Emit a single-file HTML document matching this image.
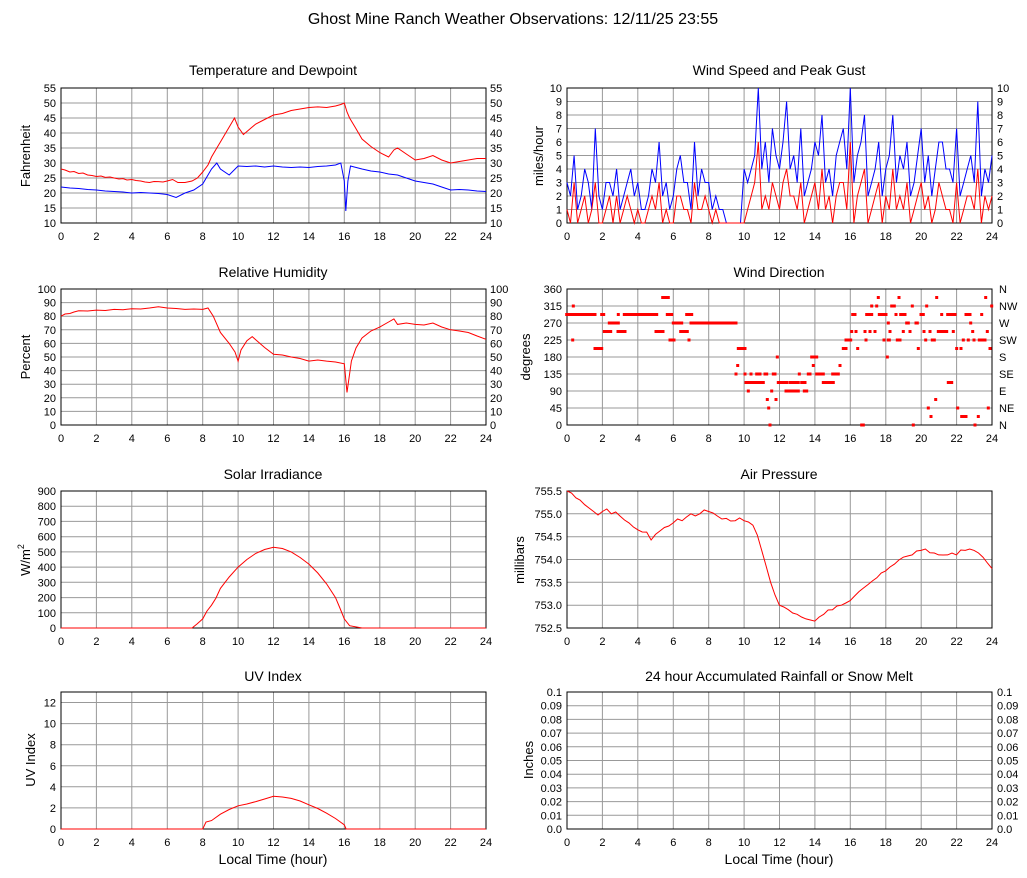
<!DOCTYPE html>
<html><head><meta charset="utf-8"><style>
html,body{margin:0;padding:0;background:#fff;}
svg{display:block;font-family:"Liberation Sans",Arial,sans-serif;}
.t{font-size:11px;fill:#000}
.ti{font-size:14px;fill:#000;text-anchor:middle}
.ax{font-size:13px;fill:#000;text-anchor:middle}
.r{text-anchor:end}
.m{text-anchor:middle}
.g{fill:none;stroke:#999;stroke-width:1}
.gv{fill:none;stroke:#999;stroke-width:1;vector-effect:non-scaling-stroke}
.f{fill:none;stroke:#000;stroke-width:1}
.rl{fill:none;stroke:#f00;stroke-width:1}
.bl{fill:none;stroke:#00f;stroke-width:1}
.d rect{fill:#f00}
</style></head><body>
<svg width="1027" height="878" viewBox="0 0 1027 878" xmlns="http://www.w3.org/2000/svg">
<defs>
<path id="vl" class="gv" d="M96.4 0V1M131.8 0V1M167.3 0V1M202.7 0V1M238.1 0V1M273.5 0V1M308.9 0V1M344.3 0V1M379.8 0V1M415.2 0V1M450.6 0V1"/>
</defs>
<rect width="1027" height="878" fill="#fff"/>
<!-- vertical grid -->
<use href="#vl" transform="translate(0,88) scale(1,135)"/>
<use href="#vl" transform="translate(506,88) scale(1,135)"/>
<use href="#vl" transform="translate(0,289) scale(1,136)"/>
<use href="#vl" transform="translate(506,289) scale(1,136)"/>
<use href="#vl" transform="translate(0,491) scale(1,137)"/>
<use href="#vl" transform="translate(506,491) scale(1,137)"/>
<use href="#vl" transform="translate(0,692) scale(1,137)"/>
<use href="#vl" transform="translate(506,692) scale(1,137)"/>
<!-- horizontal grid -->
<path class="g" d="M61 103H486M61 118H486M61 133H486M61 148H486M61 163H486M61 178H486M61 193H486M61 208H486"/>
<path class="g" d="M567 101.5H992M567 115H992M567 128.5H992M567 142H992M567 155.5H992M567 169H992M567 182.5H992M567 196H992M567 209.5H992"/>
<path class="g" d="M61 302.6H486M61 316.2H486M61 329.8H486M61 343.4H486M61 357H486M61 370.6H486M61 384.2H486M61 397.8H486M61 411.4H486"/>
<path class="g" d="M567 306H992M567 323H992M567 340H992M567 357H992M567 374H992M567 391H992M567 408H992"/>
<path class="g" d="M61 506.2H486M61 521.4H486M61 536.7H486M61 551.9H486M61 567.1H486M61 582.3H486M61 597.6H486M61 612.8H486"/>
<path class="g" d="M567 513.8H992M567 536.7H992M567 559.5H992M567 582.3H992M567 605.2H992"/>
<path class="g" d="M61 702.5H486M61 723.6H486M61 744.7H486M61 765.8H486M61 786.8H486M61 807.9H486"/>
<path class="g" d="M567 705.7H992M567 719.4H992M567 733.1H992M567 746.8H992M567 760.5H992M567 774.2H992M567 787.9H992M567 801.6H992M567 815.3H992"/>
<!-- frames -->
<rect class="f" x="61" y="88" width="425" height="135"/>
<rect class="f" x="567" y="88" width="425" height="135"/>
<rect class="f" x="61" y="289" width="425" height="136"/>
<rect class="f" x="567" y="289" width="425" height="136"/>
<rect class="f" x="61" y="491" width="425" height="137"/>
<rect class="f" x="567" y="491" width="425" height="137"/>
<rect class="f" x="61" y="692" width="425" height="137"/>
<rect class="f" x="567" y="692" width="425" height="137"/>

<!-- Temperature -->
<polyline class="rl" points="61,169 65,170 69.9,172 74,171.5 78.7,173.5 83,173 87.6,175 92,175.5 96.4,176.5 101,176 105.3,177.4 110,177 114.1,178 119,179 123,178.6 127,180 131.8,179.5 136,180.5 140.7,181 145,182 149.5,182.5 154,181.5 158.4,181.6 163,182 167.2,181 172.6,179.5 177.9,182.5 185,182.5 192,181 197.4,178 202.7,172 208,165 211.5,157 216.8,148 220.4,142 225.7,133 231,124 234.5,118 238.1,127 243.4,134.5 248.7,130 252.2,127 255.8,124 264.6,119.5 273.5,115 282.4,113.5 291.2,110.5 300.1,109 308.9,107.5 317.8,106.9 326.6,107.5 335.5,106 340.8,104.5 344.3,103 347,112 349.6,118 355,127 362,139 370.9,146.5 379.7,152.5 388.6,157 393.9,150 397.5,148 406.3,154 415.2,160 424,158.5 432.9,155.5 441.7,160 450.6,163 459.4,161.5 468.3,160 477.1,158.5 486,158.5"/>
<polyline class="bl" points="61,187 69.9,188 78.7,188.5 87.6,189.5 96.4,190 105.3,191 114.1,191.5 123,192 131.8,193 140.7,192.5 149.5,193 158.4,193.5 167.2,194.5 176.1,197.5 185,193 193.8,190 202.7,184 211.5,169 216.8,163 220.4,169 229.2,175 238.1,166 246.9,166.5 255.8,166 264.6,167 273.5,166 282.4,167 291.2,167.5 300.1,167 308.9,167.5 317.8,166.5 326.6,166 335.5,165 340.8,163 344.3,181 345.8,211 347.9,181 350.5,166 362,169 370.9,171 379.7,172 388.6,174 397.5,175 406.3,178 415.2,181 424,182.5 432.9,184 441.7,187 450.6,190 459.4,189.5 468.3,190 477.1,191 486,191.5"/>
<!-- Wind -->
<polyline class="bl" points="567,182.5 570.5,196 574.1,155.5 577.6,209.5 581.2,196 584.7,169 588.3,182.5 591.8,209.5 595.3,128.5 598.9,196 602.4,209.5 606,182.5 609.5,182.5 613,196 616.6,169 620.1,209.5 623.7,196 627.2,182.5 630.8,169 634.3,196 637.8,182.5 641.4,209.5 644.9,209.5 648.5,196 652,169 655.5,182.5 659.1,142 662.6,196 666.2,182.5 669.7,209.5 673.3,196 676.8,169 680.3,155.5 683.9,182.5 687.4,182.5 691,209.5 694.5,142 698,196 701.6,169 705.1,182.5 708.7,182.5 712.2,209.5 715.8,196 719.3,209.5 722.8,209.5 726.4,223 729.9,223 733.5,223 737,223 740.5,223 744.1,169 747.6,182.5 751.2,169 754.7,155.5 758.3,88 761.8,169 765.3,142 768.9,182.5 772.4,128.5 776,155.5 779.5,169 783,142 786.6,101.5 790.1,169 793.7,155.5 797.2,182.5 800.8,128.5 804.3,196 807.8,182.5 811.4,169 814.9,142 818.5,155.5 822,115 825.5,182.5 829.1,169 832.6,196 836.2,155.5 839.7,142 843.3,128.5 846.8,169 850.3,88 853.9,182.5 857.4,155.5 861,142 864.5,115 868,196 871.6,182.5 875.1,169 878.7,142 882.2,196 885.8,169 889.3,155.5 892.8,115 896.4,182.5 899.9,155.5 903.5,169 907,142 910.5,196 914.1,182.5 917.6,155.5 921.2,128.5 924.7,182.5 928.3,155.5 931.8,196 935.3,169 938.9,142 942.4,142 946,169 949.5,169 953,182.5 956.6,128.5 960.1,196 963.7,182.5 967.2,169 970.8,155.5 974.3,182.5 977.8,101.5 981.4,196 984.9,169 988.5,182.5 992,155.5"/>
<polyline class="rl" points="567,209.5 570.5,223 574.1,182.5 577.6,223 581.2,209.5 584.7,196 588.3,223 591.8,209.5 595.3,182.5 598.9,223 602.4,223 606,209.5 609.5,196 613,223 616.6,196 620.1,223 623.7,209.5 627.2,196 630.8,209.5 634.3,223 637.8,209.5 641.4,223 644.9,223 648.5,209.5 652,196 655.5,209.5 659.1,182.5 662.6,223 666.2,209.5 669.7,223 673.3,223 676.8,196 680.3,196 683.9,209.5 687.4,209.5 691,223 694.5,182.5 698,209.5 701.6,209.5 705.1,196 708.7,209.5 712.2,223 715.8,209.5 719.3,223 744.1,223 747.6,209.5 751.2,196 754.7,182.5 758.3,142 761.8,209.5 765.3,196 768.9,209.5 772.4,182.5 776,196 779.5,209.5 783,182.5 786.6,169 790.1,196 793.7,196 797.2,209.5 800.8,182.5 804.3,223 807.8,209.5 811.4,196 814.9,182.5 818.5,209.5 822,169 825.5,209.5 829.1,196 832.6,223 836.2,196 839.7,182.5 843.3,182.5 846.8,209.5 850.3,142 853.9,223 857.4,196 861,182.5 864.5,169 868,223 871.6,209.5 875.1,196 878.7,182.5 882.2,223 885.8,196 889.3,209.5 892.8,169 896.4,209.5 899.9,196 903.5,209.5 907,182.5 910.5,223 914.1,209.5 917.6,196 921.2,182.5 924.7,209.5 928.3,196 931.8,223 935.3,209.5 938.9,182.5 942.4,196 946,209.5 949.5,209.5 953,223 956.6,182.5 960.1,223 963.7,209.5 967.2,196 970.8,196 974.3,209.5 977.8,169 981.4,223 984.9,196 988.5,209.5 992,196"/>
<!-- RH -->
<polyline class="rl" points="61,316.2 65,314 69.9,313.5 74,312 78.7,310.8 87.6,311 96.4,310.1 105.3,310.5 114.1,309.4 123,309.8 131.8,308.7 140.7,309 149.5,308 158.4,306.7 167.2,308 176.1,308.5 185,309.4 193.8,309 202.7,309.4 208,308 213.3,316.2 220.4,332.5 229.2,343.4 235,352 238.1,361.1 241,350 246.9,340.7 252.2,336.6 256,340 264.6,347.5 273.5,354.3 282.4,355 291.2,357 300.1,358.5 308.9,361.1 317.8,360 326.6,361.1 335.5,362 344.3,363.8 347,392.4 351.4,361.1 356,348 362,338 370.9,331 379.7,327.1 388.6,322 393.9,318.9 397.5,324.4 406.3,323 415.2,324.4 424,325 432.9,323 441.7,327 450.6,329.8 459.4,331 468.3,332.5 477.1,336 486,339.3"/>
<!-- Solar -->
<polyline class="rl" points="61,628 192,628 197,624 202.7,618.9 207,611 211.5,605.2 216,598 220.4,588.4 229.2,577 238.1,567.1 246.9,559.5 255.8,553.4 264.6,549.5 273.5,547.3 282.4,548.5 291.2,551.9 300.1,557.5 308.9,564.1 317.8,573 326.6,583.9 335.5,597.6 339.9,608 344.3,618.9 349.6,625.7 362,628 486,628"/>
<!-- UV -->
<polyline class="rl" points="61,829 202.7,829 206,822 211.5,820.6 220.4,814.2 229.2,809.5 238.1,805.8 246.9,804 255.8,801.6 264.6,799 273.5,796.3 282.4,797 291.2,798.4 300.1,801 308.9,804.8 317.8,808.5 326.6,813.2 335.5,818.5 344.3,824.8 346.1,829 486,829"/>
<!-- Pressure -->
<polyline class="rl" points="567,491 571.5,493 575.9,497.8 580,500 584.7,504.7 589,508 593.6,511.5 598,515 602.4,511.5 606.8,509 611.3,513.8 615.7,512 620.1,516.1 624.5,520 629,522.9 633.4,527 637.8,529.8 642.2,532 646.7,532.1 651.1,540 655.5,534.4 659.9,531 664.4,527.5 668.8,526 673.2,522.9 677.6,519 682.1,520.7 686.5,517 690.9,513.8 695.3,516 699.8,513.8 704.2,510 708.6,511.5 713,513 717.5,516.1 721.9,519 726.3,518.4 730.7,521 735.2,520.7 739.6,518 744,520.7 748.4,522 752.9,525.2 757.3,535 761.7,550.4 766.1,566 770.6,582.3 775,595 779.4,605.2 783.8,607 788.3,609.7 792.7,613 797.1,614.3 801.5,617 806,618.9 810.4,620 814.8,621.1 819.2,617 823.7,614.3 828.1,610 832.5,609.7 836.9,606 841.4,605.2 845.8,603 850.2,600.6 854.6,596 859.1,591.5 863.5,588 867.9,584.6 872.3,581 876.8,577.8 881.2,573 885.6,570.9 890,567 894.5,564.1 898.9,560 903.3,557.2 907.7,556 912.2,554.9 916.6,551 921,550.4 925.4,549 929.9,552.7 934.3,553 938.7,554.9 943.1,555 947.6,554.9 952,553 956.4,554.9 960.8,550 965.3,550.4 969.7,549 974.1,550.4 978.5,553 983,557.2 987.4,563 992,568.6"/>
<!-- Wind direction dots -->
<g class="d">
<rect x="565.2" y="313" width="31.3" height="3"/><rect x="600.2" y="313" width="5" height="3"/><rect x="616.8" y="313" width="3" height="3"/><rect x="622.8" y="313" width="35.4" height="3"/><rect x="665.8" y="313" width="7.4" height="3"/><rect x="685.2" y="313" width="8" height="3"/>
<rect x="571.8" y="304.5" width="3" height="3"/>
<rect x="571.2" y="338.5" width="3" height="3"/><rect x="668.5" y="338.5" width="7" height="3"/><rect x="687.5" y="338.5" width="3" height="3"/>
<rect x="593.5" y="347" width="9.7" height="3"/>
<rect x="602.8" y="330" width="9.4" height="3"/><rect x="616.5" y="330" width="10" height="3"/><rect x="654.5" y="330" width="10" height="3"/><rect x="679.2" y="330" width="9.6" height="3"/>
<rect x="607.8" y="321.5" width="12" height="3"/><rect x="671.8" y="321.5" width="11.4" height="3"/><rect x="689.5" y="321.5" width="48" height="3"/>
<rect x="661.2" y="296" width="8.6" height="3"/>
<rect x="734.5" y="372.5" width="3" height="3"/><rect x="743.5" y="372.5" width="3" height="3"/><rect x="749.5" y="372.5" width="3" height="3"/><rect x="755.2" y="372.5" width="6.3" height="3"/><rect x="763.5" y="372.5" width="4.7" height="3"/><rect x="771.8" y="372.5" width="4.7" height="3"/><rect x="797.8" y="372.5" width="3" height="3"/><rect x="806.8" y="372.5" width="4.7" height="3"/><rect x="815.2" y="372.5" width="9.6" height="3"/><rect x="831.2" y="372.5" width="8.6" height="3"/>
<rect x="744.5" y="381" width="20.3" height="3"/><rect x="776.8" y="381" width="11.4" height="3"/><rect x="788.5" y="381" width="11.3" height="3"/><rect x="800.2" y="381" width="6.3" height="3"/><rect x="821.8" y="381" width="13" height="3"/><rect x="946.8" y="381" width="6.4" height="3"/>
<rect x="746.8" y="389.5" width="3" height="3"/><rect x="770.2" y="389.5" width="3" height="3"/><rect x="784.5" y="389.5" width="15.3" height="3"/><rect x="802.8" y="389.5" width="5.4" height="3"/>
<rect x="765.8" y="398" width="3" height="3"/><rect x="774.5" y="398" width="3" height="3"/><rect x="934.2" y="398" width="3" height="3"/>
<rect x="767.2" y="406.5" width="3" height="3"/><rect x="926.8" y="406.5" width="3" height="3"/><rect x="956.2" y="406.5" width="3" height="3"/><rect x="986.8" y="406.5" width="3" height="3"/>
<rect x="929.5" y="415" width="3" height="3"/><rect x="960.2" y="415" width="7.3" height="3"/><rect x="976.8" y="415" width="3" height="3"/>
<rect x="768.5" y="423.5" width="3" height="3"/><rect x="860.2" y="423.5" width="4.6" height="3"/><rect x="911.8" y="423.5" width="3" height="3"/><rect x="973.5" y="423.5" width="3" height="3"/>
<rect x="775.8" y="355.5" width="3" height="3"/><rect x="810.2" y="355.5" width="8" height="3"/><rect x="885.8" y="355.5" width="3" height="3"/>
<rect x="736.2" y="364" width="3" height="3"/><rect x="811.8" y="364" width="3" height="3"/><rect x="838.5" y="364" width="3" height="3"/>
<rect x="736.8" y="347" width="9.7" height="3"/><rect x="841.8" y="347" width="5.7" height="3"/><rect x="856.2" y="347" width="3" height="3"/><rect x="916.8" y="347" width="3" height="3"/><rect x="955.2" y="347" width="3" height="3"/><rect x="959.5" y="347" width="3" height="3"/><rect x="988.5" y="347" width="3" height="3"/>
<rect x="844.5" y="338.5" width="7.7" height="3"/><rect x="864.5" y="338.5" width="3" height="3"/><rect x="882.5" y="338.5" width="3" height="3"/><rect x="886.8" y="338.5" width="4" height="3"/><rect x="895.8" y="338.5" width="5.7" height="3"/><rect x="924.2" y="338.5" width="3" height="3"/><rect x="930.8" y="338.5" width="5" height="3"/><rect x="961.8" y="338.5" width="3" height="3"/><rect x="966.8" y="338.5" width="3" height="3"/><rect x="972.5" y="338.5" width="3" height="3"/><rect x="977.8" y="338.5" width="8.7" height="3"/>
<rect x="850.2" y="330" width="3" height="3"/><rect x="854.5" y="330" width="3" height="3"/><rect x="863.5" y="330" width="3" height="3"/><rect x="868.5" y="330" width="3" height="3"/><rect x="873.5" y="330" width="3" height="3"/><rect x="888.5" y="330" width="3" height="3"/><rect x="901.8" y="330" width="3" height="3"/><rect x="908.5" y="330" width="3" height="3"/><rect x="922.5" y="330" width="3" height="3"/><rect x="928.5" y="330" width="3" height="3"/><rect x="936.8" y="330" width="11.4" height="3"/><rect x="951.8" y="330" width="3" height="3"/><rect x="971.2" y="330" width="3" height="3"/><rect x="985.8" y="330" width="3" height="3"/>
<rect x="886.8" y="321.5" width="3" height="3"/><rect x="905.2" y="321.5" width="4.6" height="3"/><rect x="914.5" y="321.5" width="4.3" height="3"/><rect x="969.2" y="321.5" width="3" height="3"/>
<rect x="851.2" y="313" width="5.3" height="3"/><rect x="865.2" y="313" width="8" height="3"/><rect x="877.8" y="313" width="9.7" height="3"/><rect x="894.5" y="313" width="3" height="3"/><rect x="899.2" y="313" width="7.3" height="3"/><rect x="919.5" y="313" width="5.3" height="3"/><rect x="940.2" y="313" width="3" height="3"/><rect x="946.2" y="313" width="10.3" height="3"/><rect x="964.5" y="313" width="7" height="3"/><rect x="980.2" y="313" width="3" height="3"/>
<rect x="870.2" y="304.5" width="3" height="3"/><rect x="875.2" y="304.5" width="3" height="3"/><rect x="890.2" y="304.5" width="5.6" height="3"/><rect x="910.8" y="304.5" width="3" height="3"/><rect x="925.2" y="304.5" width="3" height="3"/><rect x="990.2" y="304.5" width="3" height="3"/>
<rect x="876.8" y="296" width="3" height="3"/><rect x="897.5" y="296" width="3" height="3"/><rect x="935.2" y="296" width="3" height="3"/><rect x="984.2" y="296" width="3" height="3"/>
</g>

<text x="513" y="24" style="font-size:16px" class="m">Ghost Mine Ranch Weather Observations: 12/11/25 23:55</text>
<text x="273" y="75" class="ti">Temperature and Dewpoint</text>
<text x="779" y="75" class="ti">Wind Speed and Peak Gust</text>
<text x="273" y="277" class="ti">Relative Humidity</text>
<text x="779" y="277" class="ti">Wind Direction</text>
<text x="273" y="479" class="ti">Solar Irradiance</text>
<text x="779" y="479" class="ti">Air Pressure</text>
<text x="273" y="681" class="ti">UV Index</text>
<text x="779" y="681" class="ti">24 hour Accumulated Rainfall or Snow Melt</text>
<text class="ax" transform="translate(30,156) rotate(-90)">Fahrenheit</text>
<text class="ax" transform="translate(543,156) rotate(-90)">miles/hour</text>
<text class="ax" transform="translate(30,357) rotate(-90)">Percent</text>
<text class="ax" transform="translate(530,357) rotate(-90)">degrees</text>
<text class="ax" transform="translate(30,560) rotate(-90)">W/m<tspan dy="-6" style="font-size:9px">2</tspan></text>
<text class="ax" transform="translate(524,560) rotate(-90)">millibars</text>
<text class="ax" transform="translate(35,760) rotate(-90)">UV Index</text>
<text class="ax" transform="translate(533,760) rotate(-90)">Inches</text>
<text x="273" y="864" class="ax" style="font-size:14px">Local Time (hour)</text>
<text x="779" y="864" class="ax" style="font-size:14px">Local Time (hour)</text>
<g class="t r">
<text x="56" y="92">55</text><text x="56" y="107">50</text><text x="56" y="122">45</text><text x="56" y="137">40</text><text x="56" y="152">35</text><text x="56" y="167">30</text><text x="56" y="182">25</text><text x="56" y="197">20</text><text x="56" y="212">15</text><text x="56" y="227">10</text>
<text x="562" y="92">10</text><text x="562" y="105.5">9</text><text x="562" y="119">8</text><text x="562" y="132.5">7</text><text x="562" y="146">6</text><text x="562" y="159.5">5</text><text x="562" y="173">4</text><text x="562" y="186.5">3</text><text x="562" y="200">2</text><text x="562" y="213.5">1</text><text x="562" y="227">0</text>
<text x="56" y="293">100</text><text x="56" y="306.6">90</text><text x="56" y="320.2">80</text><text x="56" y="333.8">70</text><text x="56" y="347.4">60</text><text x="56" y="361">50</text><text x="56" y="374.6">40</text><text x="56" y="388.2">30</text><text x="56" y="401.8">20</text><text x="56" y="415.4">10</text><text x="56" y="429">0</text>
<text x="562" y="293">360</text><text x="562" y="310">315</text><text x="562" y="327">270</text><text x="562" y="344">225</text><text x="562" y="361">180</text><text x="562" y="378">135</text><text x="562" y="395">90</text><text x="562" y="412">45</text><text x="562" y="429">0</text>
<text x="56" y="495">900</text><text x="56" y="510.2">800</text><text x="56" y="525.4">700</text><text x="56" y="540.7">600</text><text x="56" y="555.9">500</text><text x="56" y="571.1">400</text><text x="56" y="586.3">300</text><text x="56" y="601.6">200</text><text x="56" y="616.8">100</text><text x="56" y="632">0</text>
<text x="562" y="495">755.5</text><text x="562" y="517.8">755.0</text><text x="562" y="540.7">754.5</text><text x="562" y="563.5">754.0</text><text x="562" y="586.3">753.5</text><text x="562" y="609.2">753.0</text><text x="562" y="632">752.5</text>
<text x="56" y="706.5">12</text><text x="56" y="727.6">10</text><text x="56" y="748.7">8</text><text x="56" y="769.8">6</text><text x="56" y="790.8">4</text><text x="56" y="811.9">2</text><text x="56" y="833">0</text>
<text x="562" y="696">0.1</text><text x="562" y="709.7">0.09</text><text x="562" y="723.4">0.08</text><text x="562" y="737.1">0.07</text><text x="562" y="750.8">0.06</text><text x="562" y="764.5">0.05</text><text x="562" y="778.2">0.04</text><text x="562" y="791.9">0.03</text><text x="562" y="805.6">0.02</text><text x="562" y="819.3">0.01</text><text x="562" y="833">0.0</text>
</g>
<g class="t">
<text x="490" y="92">55</text><text x="490" y="107">50</text><text x="490" y="122">45</text><text x="490" y="137">40</text><text x="490" y="152">35</text><text x="490" y="167">30</text><text x="490" y="182">25</text><text x="490" y="197">20</text><text x="490" y="212">15</text><text x="490" y="227">10</text>
<text x="997" y="92">10</text><text x="997" y="105.5">9</text><text x="997" y="119">8</text><text x="997" y="132.5">7</text><text x="997" y="146">6</text><text x="997" y="159.5">5</text><text x="997" y="173">4</text><text x="997" y="186.5">3</text><text x="997" y="200">2</text><text x="997" y="213.5">1</text><text x="997" y="227">0</text>
<text x="490" y="293">100</text><text x="490" y="306.6">90</text><text x="490" y="320.2">80</text><text x="490" y="333.8">70</text><text x="490" y="347.4">60</text><text x="490" y="361">50</text><text x="490" y="374.6">40</text><text x="490" y="388.2">30</text><text x="490" y="401.8">20</text><text x="490" y="415.4">10</text><text x="490" y="429">0</text>
<text x="999" y="293">N</text><text x="999" y="310">NW</text><text x="999" y="327">W</text><text x="999" y="344">SW</text><text x="999" y="361">S</text><text x="999" y="378">SE</text><text x="999" y="395">E</text><text x="999" y="412">NE</text><text x="999" y="429">N</text>
<text x="997" y="696">0.1</text><text x="997" y="709.7">0.09</text><text x="997" y="723.4">0.08</text><text x="997" y="737.1">0.07</text><text x="997" y="750.8">0.06</text><text x="997" y="764.5">0.05</text><text x="997" y="778.2">0.04</text><text x="997" y="791.9">0.03</text><text x="997" y="805.6">0.02</text><text x="997" y="819.3">0.01</text><text x="997" y="833">0.0</text>
</g>
<g class="t m">
<g><text x="61" y="240">0</text><text x="96.4" y="240">2</text><text x="131.8" y="240">4</text><text x="167.3" y="240">6</text><text x="202.7" y="240">8</text><text x="238.1" y="240">10</text><text x="273.5" y="240">12</text><text x="308.9" y="240">14</text><text x="344.3" y="240">16</text><text x="379.8" y="240">18</text><text x="415.2" y="240">20</text><text x="450.6" y="240">22</text><text x="486" y="240">24</text>
<text x="567" y="240">0</text><text x="602.4" y="240">2</text><text x="637.8" y="240">4</text><text x="673.3" y="240">6</text><text x="708.7" y="240">8</text><text x="744.1" y="240">10</text><text x="779.5" y="240">12</text><text x="814.9" y="240">14</text><text x="850.3" y="240">16</text><text x="885.8" y="240">18</text><text x="921.2" y="240">20</text><text x="956.6" y="240">22</text><text x="992" y="240">24</text></g>
<g transform="translate(0,202)"><text x="61" y="240">0</text><text x="96.4" y="240">2</text><text x="131.8" y="240">4</text><text x="167.3" y="240">6</text><text x="202.7" y="240">8</text><text x="238.1" y="240">10</text><text x="273.5" y="240">12</text><text x="308.9" y="240">14</text><text x="344.3" y="240">16</text><text x="379.8" y="240">18</text><text x="415.2" y="240">20</text><text x="450.6" y="240">22</text><text x="486" y="240">24</text>
<text x="567" y="240">0</text><text x="602.4" y="240">2</text><text x="637.8" y="240">4</text><text x="673.3" y="240">6</text><text x="708.7" y="240">8</text><text x="744.1" y="240">10</text><text x="779.5" y="240">12</text><text x="814.9" y="240">14</text><text x="850.3" y="240">16</text><text x="885.8" y="240">18</text><text x="921.2" y="240">20</text><text x="956.6" y="240">22</text><text x="992" y="240">24</text></g>
<g transform="translate(0,405)"><text x="61" y="240">0</text><text x="96.4" y="240">2</text><text x="131.8" y="240">4</text><text x="167.3" y="240">6</text><text x="202.7" y="240">8</text><text x="238.1" y="240">10</text><text x="273.5" y="240">12</text><text x="308.9" y="240">14</text><text x="344.3" y="240">16</text><text x="379.8" y="240">18</text><text x="415.2" y="240">20</text><text x="450.6" y="240">22</text><text x="486" y="240">24</text>
<text x="567" y="240">0</text><text x="602.4" y="240">2</text><text x="637.8" y="240">4</text><text x="673.3" y="240">6</text><text x="708.7" y="240">8</text><text x="744.1" y="240">10</text><text x="779.5" y="240">12</text><text x="814.9" y="240">14</text><text x="850.3" y="240">16</text><text x="885.8" y="240">18</text><text x="921.2" y="240">20</text><text x="956.6" y="240">22</text><text x="992" y="240">24</text></g>
<g transform="translate(0,606)"><text x="61" y="240">0</text><text x="96.4" y="240">2</text><text x="131.8" y="240">4</text><text x="167.3" y="240">6</text><text x="202.7" y="240">8</text><text x="238.1" y="240">10</text><text x="273.5" y="240">12</text><text x="308.9" y="240">14</text><text x="344.3" y="240">16</text><text x="379.8" y="240">18</text><text x="415.2" y="240">20</text><text x="450.6" y="240">22</text><text x="486" y="240">24</text>
<text x="567" y="240">0</text><text x="602.4" y="240">2</text><text x="637.8" y="240">4</text><text x="673.3" y="240">6</text><text x="708.7" y="240">8</text><text x="744.1" y="240">10</text><text x="779.5" y="240">12</text><text x="814.9" y="240">14</text><text x="850.3" y="240">16</text><text x="885.8" y="240">18</text><text x="921.2" y="240">20</text><text x="956.6" y="240">22</text><text x="992" y="240">24</text></g>
</g>
</svg>
</body></html>
